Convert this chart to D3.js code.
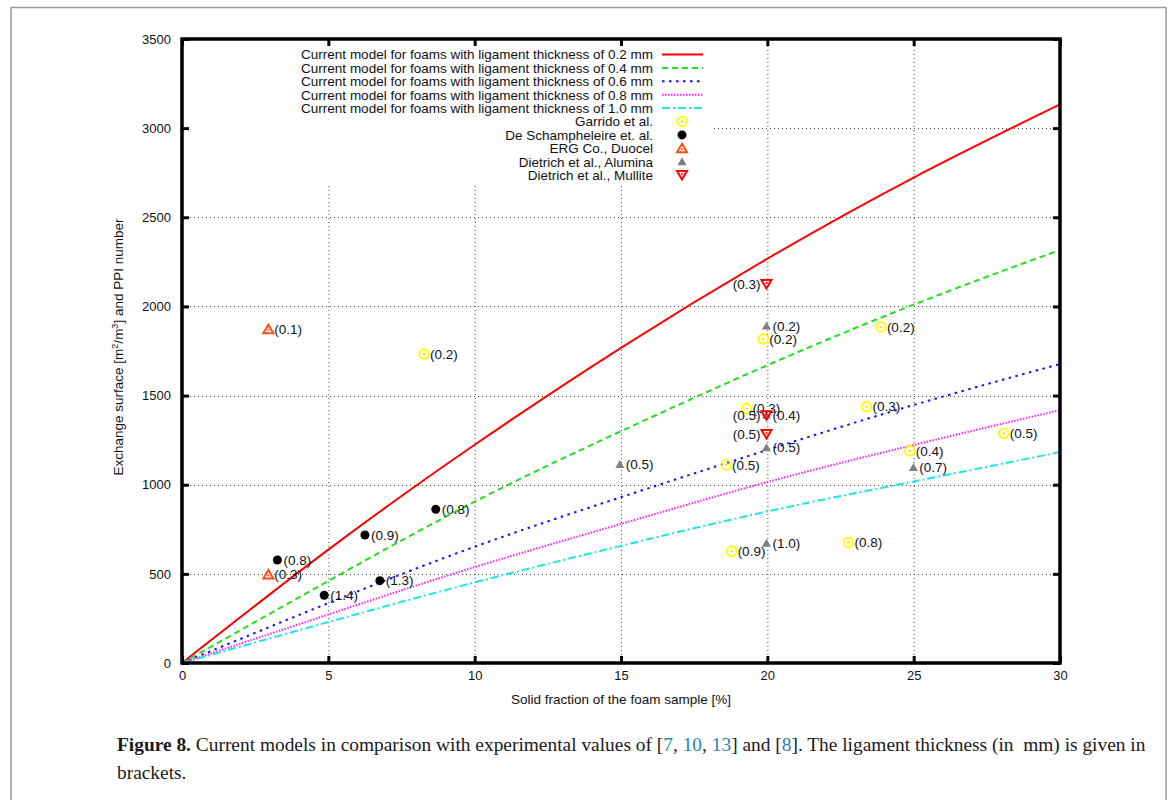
<!DOCTYPE html>
<html>
<head>
<meta charset="utf-8">
<script src="https://cdn.jsdelivr.net/npm/d3@7/dist/d3.min.js"></script>
<style>
  html, body { margin: 0; padding: 0; background: #fff; }
  svg { display: block; }
</style>
</head>
<body>
<svg id="chart" width="1170" height="800"></svg>
<script>
// Solid fraction (%) at which the model curves are sampled
const solidFraction = [0, 5, 10, 15, 20, 25, 30];

// Model exchange surface (m²/m³) per ligament thickness
const model02 = [0, 636, 1224, 1768, 2268, 2723, 3134];
const model04 = [0, 460, 905, 1300, 1670, 2010, 2317];
const model06 = [0, 336, 652, 930, 1195, 1447, 1677];
const model08 = [0, 272, 538, 780, 1015, 1223, 1419];
const model10 = [0, 230, 452, 657, 850, 1018, 1183];

const modelNames = [
  "Current model for foams with ligament thickness of 0.2 mm",
  "Current model for foams with ligament thickness of 0.4 mm",
  "Current model for foams with ligament thickness of 0.6 mm",
  "Current model for foams with ligament thickness of 0.8 mm",
  "Current model for foams with ligament thickness of 1.0 mm"
];

// Experimental values: [solid fraction %, surface m²/m³, ligament thickness mm]
const garrido = [
  [8.27, 1733, "0.2"], [19.86, 1817, "0.2"], [23.88, 1885, "0.2"],
  [19.29, 1427, "0.3"], [23.39, 1438, "0.3"], [18.59, 1111, "0.5"],
  [24.87, 1189, "0.4"], [28.08, 1288, "0.5"], [18.78, 626, "0.9"],
  [22.77, 676, "0.8"]
];
const deSchampheleire = [
  [3.26, 578, "0.8"], [6.25, 718, "0.9"], [8.67, 862, "0.8"],
  [4.86, 380, "1.4"], [6.76, 462, "1.3"]
];
const ergDuocel = [[2.95, 497, "0.3"], [2.95, 1872, "0.1"]];
const dietrichAlumina = [
  [14.96, 1114, "0.5"], [19.97, 1890, "0.2"], [19.97, 1391, "0.4"],
  [19.97, 1208, "0.5"], [24.99, 1096, "0.7"], [19.97, 671, "1.0"]
];
const dietrichMullite = [[19.97, 2126, "0.3"], [19.97, 1389, "0.5"], [19.97, 1285, "0.5"]];

const xTicks = [0, 5, 10, 15, 20, 25, 30];
const yTicks = [0, 500, 1000, 1500, 2000, 2500, 3000, 3500];

const svg = d3.select("#chart");
const FONT = "'Liberation Sans', Arial, Helvetica, sans-serif";

// Outer figure frame
svg.append("rect")
  .attr("x", 11).attr("y", 7.5).attr("width", 1155).attr("height", 810)
  .attr("fill", "none").attr("stroke", "#9a9a9a").attr("stroke-width", 1.5);

const x = d3.scaleLinear().domain([0, 30]).range([182, 1060]);
const y = d3.scaleLinear().domain([0, 3500]).range([663, 39]);

// Grid
const grid = svg.append("g").attr("stroke", "#444").attr("stroke-width", 1)
  .attr("stroke-dasharray", "1,3");
grid.selectAll("line.gx").data(xTicks.slice(1, -1)).join("line")
  .attr("x1", d => x(d) + 0.5).attr("x2", d => x(d) + 0.5)
  .attr("y1", y(0)).attr("y2", y(3500));
grid.selectAll("line.gy").data(yTicks.slice(1, -1)).join("line")
  .attr("y1", d => Math.round(y(d)) + 0.5).attr("y2", d => Math.round(y(d)) + 0.5)
  .attr("x1", x(0)).attr("x2", x(30));

// Opaque key box
svg.append("rect").attr("x", 184).attr("y", 41).attr("width", 529).attr("height", 145)
  .attr("fill", "#fff");

// Model curves
const lineStyles = [
  { color: "#ff0000", dash: null },
  { color: "#22e01e", dash: "6,4" },
  { color: "#1010ff", dash: "2.5,4.5" },
  { color: "#ff22ff", dash: "1.5,1.5" },
  { color: "#1ee6e6", dash: "8,3,2,3" }
];
const models = [model02, model04, model06, model08, model10];
const lineGen = d3.line().x((d, i) => x(solidFraction[i])).y(d => y(d)).curve(d3.curveNatural);
models.forEach((m, i) => {
  svg.append("path").datum(m).attr("d", lineGen)
    .attr("fill", "none").attr("stroke", lineStyles[i].color).attr("stroke-width", 2)
    .attr("stroke-dasharray", lineStyles[i].dash);
});

// Point symbols
const symbols = {
  garrido(g, cx, cy) {
    g.append("circle").attr("cx", cx).attr("cy", cy).attr("r", 4.8)
      .attr("fill", "none").attr("stroke", "#ffff00").attr("stroke-width", 2);
    g.append("circle").attr("cx", cx).attr("cy", cy).attr("r", 1.2).attr("fill", "#e8e800");
  },
  schamp(g, cx, cy) {
    g.append("circle").attr("cx", cx).attr("cy", cy).attr("r", 4.5).attr("fill", "#000");
  },
  erg(g, cx, cy) {
    g.append("path").attr("d", `M${cx - 5},${cy + 4} L${cx + 5},${cy + 4} L${cx},${cy - 4.5} Z`)
      .attr("fill", "none").attr("stroke", "#ff4d14").attr("stroke-width", 2)
      .attr("stroke-linejoin", "miter");
    g.append("circle").attr("cx", cx).attr("cy", cy + 1).attr("r", 1).attr("fill", "#ff4d14");
  },
  alumina(g, cx, cy) {
    g.append("path").attr("d", `M${cx - 4.5},${cy + 3.5} L${cx + 4.5},${cy + 3.5} L${cx},${cy - 4.5} Z`)
      .attr("fill", "#7f7f7f");
  },
  mullite(g, cx, cy) {
    g.append("path").attr("d", `M${cx - 5},${cy - 4} L${cx + 5},${cy - 4} L${cx},${cy + 4.5} Z`)
      .attr("fill", "none").attr("stroke", "#ff0000").attr("stroke-width", 2);
    g.append("circle").attr("cx", cx).attr("cy", cy - 1).attr("r", 1).attr("fill", "#ff0000");
  }
};

const pointSets = [
  { data: dietrichAlumina, sym: "alumina", side: "right" },
  { data: garrido, sym: "garrido", side: "right" },
  { data: deSchampheleire, sym: "schamp", side: "right" },
  { data: ergDuocel, sym: "erg", side: "right" },
  { data: dietrichMullite, sym: "mullite", side: "left" }
];
const pts = svg.append("g");
pointSets.forEach(set => {
  set.data.forEach(d => {
    const cx = x(d[0]), cy = y(d[1]);
    symbols[set.sym](pts, cx, cy);
    pts.append("text")
      .attr("x", set.side === "right" ? cx + 6 : cx - 6)
      .attr("y", cy).attr("dy", "0.36em")
      .attr("text-anchor", set.side === "right" ? "start" : "end")
      .attr("font-family", FONT).attr("font-size", 13.5).attr("fill", "#111")
      .text(`(${d[2]})`);
  });
});

// Axes with inward ticks on all four sides
const tickStyle = g => {
  g.select(".domain").remove();
  g.selectAll(".tick line").attr("stroke", "#000").attr("stroke-width", 3);
  g.selectAll(".tick text").attr("font-family", FONT).attr("font-size", 13).attr("fill", "#111");
};
svg.append("g").attr("transform", `translate(0,${y(0)})`)
  .call(d3.axisBottom(x).tickValues(xTicks).tickFormat(d3.format("d")).tickSize(-7).tickPadding(8))
  .call(tickStyle);
svg.append("g").attr("transform", `translate(0,${y(3500)})`)
  .call(d3.axisTop(x).tickValues(xTicks).tickSize(-7).tickFormat("")).call(tickStyle);
svg.append("g").attr("transform", `translate(${x(0)},0)`)
  .call(d3.axisLeft(y).tickValues(yTicks).tickFormat(d3.format("d")).tickSize(-7).tickPadding(11))
  .call(tickStyle);
svg.append("g").attr("transform", `translate(${x(30)},0)`)
  .call(d3.axisRight(y).tickValues(yTicks).tickSize(-7).tickFormat("")).call(tickStyle);

svg.append("rect").attr("x", x(0)).attr("y", y(3500))
  .attr("width", x(30) - x(0)).attr("height", y(0) - y(3500))
  .attr("fill", "none").attr("stroke", "#000").attr("stroke-width", 3.5);

// Axis titles
svg.append("text").attr("x", x(15)).attr("y", 704).attr("text-anchor", "middle")
  .attr("font-family", FONT).attr("font-size", 13.5).attr("fill", "#111")
  .text("Solid fraction of the foam sample [%]");

const yt = svg.append("text").attr("transform", "translate(123,347) rotate(-90)")
  .attr("text-anchor", "middle").attr("font-family", FONT).attr("font-size", 13.5).attr("fill", "#111");
yt.append("tspan").text("Exchange surface [m");
yt.append("tspan").attr("font-size", 9).attr("dy", -5).text("2");
yt.append("tspan").attr("dy", 5).text("/m");
yt.append("tspan").attr("font-size", 9).attr("dy", -5).text("3");
yt.append("tspan").attr("dy", 5).text("] and PPI number");

// Key
const key = svg.append("g").attr("font-family", FONT).attr("font-size", 13.5).attr("fill", "#111");
const keyTextX = 653, keySample = [662, 703], keyY0 = 54.5, keyDy = 13.4;
modelNames.forEach((name, i) => {
  const ky = keyY0 + i * keyDy;
  key.append("text").attr("x", keyTextX).attr("y", ky).attr("dy", "0.36em")
    .attr("text-anchor", "end").text(name);
  key.append("line").attr("x1", keySample[0]).attr("x2", keySample[1])
    .attr("y1", ky).attr("y2", ky)
    .attr("stroke", lineStyles[i].color).attr("stroke-width", 2)
    .attr("stroke-dasharray", lineStyles[i].dash);
});
const symbolKeys = [
  ["Garrido et al.", "garrido"],
  ["De Schampheleire et. al.", "schamp"],
  ["ERG Co., Duocel", "erg"],
  ["Dietrich et al., Alumina", "alumina"],
  ["Dietrich et al., Mullite", "mullite"]
];
symbolKeys.forEach((s, j) => {
  const ky = keyY0 + (j + 5) * keyDy;
  key.append("text").attr("x", keyTextX).attr("y", ky).attr("dy", "0.36em")
    .attr("text-anchor", "end").text(s[0]);
  symbols[s[1]](key, 682, ky);
});

// Caption
const SERIF = "'Liberation Serif', 'Times New Roman', serif";
const cap = svg.append("text").attr("x", 117).attr("y", 751)
  .attr("font-family", SERIF).attr("font-size", 19.4).attr("fill", "#1a1a1a");
cap.append("tspan").attr("font-weight", "bold").text("Figure 8.");
cap.append("tspan").text(" Current models in comparison with experimental values of [");
cap.append("tspan").attr("fill", "#2a7fb8").text("7");
cap.append("tspan").text(", ");
cap.append("tspan").attr("fill", "#2a7fb8").text("10");
cap.append("tspan").text(", ");
cap.append("tspan").attr("fill", "#2a7fb8").text("13");
cap.append("tspan").text("] and [");
cap.append("tspan").attr("fill", "#2a7fb8").text("8");
cap.append("tspan").text("]. The ligament thickness (in\u00a0 mm) is given in");
svg.append("text").attr("x", 117).attr("y", 779)
  .attr("font-family", SERIF).attr("font-size", 19.4)
  .attr("fill", "#1a1a1a").text("brackets.");
</script>
</body>
</html>
